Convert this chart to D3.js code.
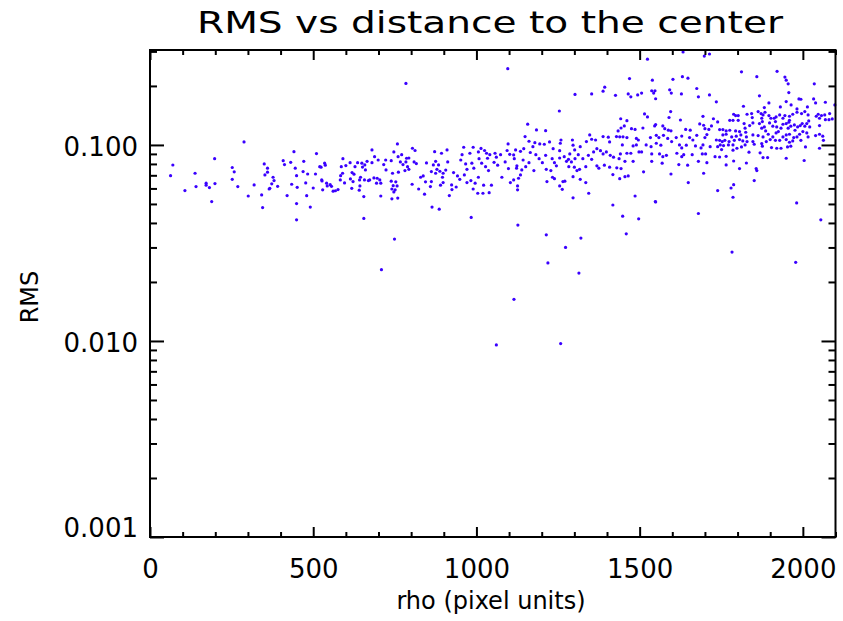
<!DOCTYPE html>
<html><head><meta charset="utf-8">
<script src="https://cdn.jsdelivr.net/npm/d3@7"></script>
<style>body{margin:0;background:#fff} svg text{font-family:"DejaVu Sans",sans-serif;fill:#000}</style>
</head><body><svg id="c" width="843" height="621"></svg>
<script>
const titleText = "RMS vs distance to the center";
const xLabel = "rho (pixel units)";
const yLabel = "RMS";
const xDomain = [0, 2100];
const yDomain = [0.001, 0.305];
const xMajorTicks = [0, 500, 1000, 1500, 2000];
const xTickLabels = ["0", "500", "1000", "1500", "2000"];
const yMajorTicks = [0.001, 0.01, 0.1];
const yTickLabels = ["0.001", "0.010", "0.100"];
// [rho, RMS]
const points = [
[70,.079],[63,.0697],[107,.0585],[138,.0717],[141,.0613],[172,.0638],[172,.0623],[182,.0606],[189,.0514],[198,.0851],[199,.0635],[252,.0767],[258,.0729],[252,.0668],[269,.0613],[288,.1036],[301,.0549],[319,.0625],[342,.0556],[345,.0479],[350,.0800],[360,.0761],[360,.0726],[352,.0703],[365,.0596],
[377,.0684],[380,.0658],[373,.0633],[367,.0601],[391,.0615],[408,.0831],[412,.0794],[420,.0552],[431,.0815],[434,.0630],[441,.0924],[445,.0761],[449,.0697],[449,.0502],[449,.0415],[451,.0608],[469,.0731],[471,.0825],[477,.0640],[480,.0551],[483,.0711],[491,.0482],[500,.0603],[507,.0711],[510,.0903],[520,.0775],[524,.0770],[526,.0663],[527,.0655],[529,.0590],[535,.0807],[537,.0788],[541,.0638],[543,.0618],[552,.0627],[556,.0615],[561,.0581],[568,.0584],[576,.0592],[583,.0663],[584,.0697],[586,.0775],[590,.0717],[591,.0851],[596,.0640],[600,.0785],[613,.0812],[614,.0671],[618,.0601],[619,.0723],[622,.0650],[625,.0709],[628,.0775],[636,.0812],[641,.0588],[642,.0663],[645,.0684],[643,.0618],[649,.0807],[651,.0771],[655,.0545],[655,.0422],[658,.0791],[660,.0746],[657,.0663],[665,.0825],[669,.0658],[673,.0663],[680,.0943],[680,.0812],[686,.0679],[688,.0871],[694,.0638],[696,.0676],[699,.0838],[704,.0663],[707,.0638],[707,.0549],[716,.0794],[722,.0838],[723,.0746],
[758,.1012],[747,.0921],[760,.0871],[739,.0831],[771,.0892],[767,.0819],[775,.0794],[786,.0855],[784,.0819],[789,.0775],[793,.0858],[781,.0740],[743,.0717],[761,.0726],[739,.0653],[753,.0648],[745,.0620],[757,.0618],[751,.0590],[741,.0596],[747,.0576],[741,.0531],[759,.0536],[804,.0962],[812,.0937],[809,.0819],[816,.0803],[793,.0751],[803,.0630],[823,.0596],[829,.0684],[837,.0695],[844,.0648],[841,.0561],[847,.0810],[859,.0613],[862,.0650],[862,.0731],[864,.0482],[868,.0791],[872,.0924],[875,.0825],[875,.0717],[879,.0751],[884,.0791],[886,.0470],[888,.0734],[890,.0623],[893,.0907],[898,.0717],[898,.0643],[896,.0684],[906,.0744],[910,.0943],[912,.0819],[917,.0552],[924,.0625],[925,.0592],[930,.0723],[938,.0610],[942,.0695],[949,.0668],[952,.0838],[956,.0892],[961,.0973],[963,.0703],[967,.0800],[971,.0643],[971,.0751],[980,.0907],[983,.0658],[984,.0427],[986,.0807],[990,.0973],[990,.0596],[992,.0761],[996,.0638],[1004,.0567],[1006,.0684],[1006,.0921],[1008,.0851],[1014,.0960],[1016,.0807],[1020,.0567],[1022,.0623],[1025,.0937],[1028,.0775],[1031,.0907],[1034,.0855],[1037,.0740],[1039,.0571],[1041,.0892],[1046,.0623],[1054,.0815],[1057,.0907],[1061,.0866],[1065,.0788],[1074,.0892],[1078,.0684],[1088,.0819],[1094,.0937],[1097,.1012],[1098,.0758],[749,.0331],[709,.0231],[784,.206],
[1127,.0390],[1214,.0348],[1219,.0250],[1273,.0300],[1320,.0335],[1314,.0222],[1115,.0163],[1061,.00955],[1258,.0097],[1418,.0494],[1448,.0433],[1459,.0352],[1497,.0420],[1548,.0514],[1680,.0447],[1783,.0284],[1981,.0506],[1978,.0252],[2055,.0415],[1296,.0537],
[1302,.181],[1353,.182],[1393,.197],[1388,.188],[1426,.179],[1254,.149],[1157,.1276],[1184,.1193],[1212,.1183],[1149,.1103],[1161,.1044],[1179,.1027],[1194,.1012],[1208,.1008],[1224,.1036],[1259,.1060],[1257,.1020],[1294,.1060],[1296,.0997],[1145,.0957],[1173,.0980],[1120,.0943],[1114,.0889],[1102,.0896],[1135,.0928],[1165,.0915],[1182,.0892],[1192,.0851],[1212,.0885],[1235,.0957],[1255,.0935],[1269,.0871],[1282,.0845],[1286,.0900],[1301,.0943],[1318,.0980],[1337,.1040],[1347,.1125],[1353,.1069],[1365,.1060],[1388,.1103],[1408,.1036],[1434,.1179],[1429,.1103],[1404,.1095],[1116,.0851],[1143,.0838],[1161,.0812],[1202,.0812],[1232,.0851],[1239,.0812],[1255,.0858],[1276,.0825],[1291,.0819],[1302,.0851],[1312,.0892],[1326,.0851],[1343,.0885],[1353,.0845],[1359,.0921],[1369,.0957],[1380,.0935],[1388,.0900],[1398,.0921],[1410,.0885],[1420,.0866],[1437,.0851],[1124,.0782],[1139,.0746],[1123,.0761],[1151,.0775],[1176,.0740],[1214,.0751],[1228,.0740],[1245,.0782],[1283,.0775],[1300,.0770],[1316,.0751],[1335,.0775],[1369,.0782],[1375,.0761],[1392,.0788],[1408,.0770],[1430,.0764],[1135,.0703],[1129,.0676],[1114,.0663],[1104,.0643],[1126,.0618],[1126,.0590],[1216,.0650],[1233,.0684],[1239,.0673],[1265,.0650],[1271,.0653],[1255,.0618],[1263,.0594],[1296,.0689],[1318,.0668],[1335,.0643],[1308,.0740],[1344,.0567],[1418,.0706],[1096,.245],
[1633,.298],[1698,.284],[1714,.291],[1524,.274],[1469,.218],[1539,.214],[1602,.216],[1631,.223],[1648,.219],[1465,.182],[1473,.176],[1494,.180],[1506,.184],[1537,.189],[1547,.189],[1543,.184],[1549,.172],[1592,.191],[1597,.184],[1628,.182],[1675,.194],[1680,.176],[1714,.180],[1735,.166],[1595,.148],[1590,.138],[1515,.144],[1524,.139],[1694,.140],[1726,.136],[1739,.131],[1625,.134],[1549,.127],[1546,.125],[1442,.136],[1461,.133],[1453,.125],[1443,.122],[1475,.121],[1486,.120],[1510,.122],[1571,.125],[1577,.121],[1588,.119],[1596,.118],[1641,.120],[1655,.119],[1684,.128],[1696,.126],[1700,.121],[1712,.120],[1720,.125],[1439,.110],[1449,.110],[1461,.109],[1490,.108],[1496,.106],[1533,.109],[1551,.112],[1559,.109],[1573,.112],[1586,.108],[1612,.109],[1629,.111],[1653,.109],[1663,.106],[1675,.112],[1700,.109],[1706,.113],[1735,.106],[1447,.100],[1480,.0988],[1490,.100],[1520,.100],[1535,.0980],[1551,.102],[1565,.0997],[1598,.104],[1622,.100],[1629,.0965],[1643,.0997],[1671,.0988],[1688,.0965],[1694,.100],[1716,.0980],[1739,.0980],[1441,.0900],[1461,.0907],[1473,.0907],[1498,.0921],[1506,.0921],[1537,.0900],[1561,.0900],[1571,.0871],[1582,.0885],[1614,.0907],[1629,.0871],[1635,.0892],[1661,.0892],[1692,.0900],[1702,.0900],[1731,.0871],[1455,.0825],[1480,.0825],[1537,.0825],[1569,.0807],[1620,.0794],[1647,.0788],[1680,.0825],[1706,.0812],[1443,.0758],[1439,.0673],[1455,.0689],[1465,.0695],[1512,.0729],[1596,.0711],[1649,.0643],[1696,.0717],[1739,.0585],[1486,.0549],[1549,.0512],
[1812,.236],[1859,.223],[1921,.2375],[1945,.222],[1949,.214],[1955,.205],[1957,.185],[2035,.205],[1806,.0758],[1857,.0758],[1859,.0740],[1851,.0658],[1788,.0627],[1780,.0603],[1786,.0541],
[1867,.178],[1896,.1638],[1949,.1664],[1964,.1600],[1988,.1716],[1994,.1710],[2033,.1716],[2039,.1638],[2069,.1651],[2098,.1600],[1818,.1575],[1931,.1563],[1882,.1551],[2014,.1563],[1982,.1527],[1788,.1434],[1794,.1412],[1786,.1335],[1776,.1335],[1802,.1335],[1802,.1412],[1829,.1434],[1843,.1446],[1845,.1379],[1863,.1480],[1872,.1446],[1878,.1423],[1874,.1368],[1884,.1468],[1896,.1412],[1902,.1368],[1912,.1368],[1918,.1390],[1929,.1423],[1939,.1368],[1945,.1412],[1959,.1401],[1959,.1335],[1969,.1434],[1982,.1468],[1996,.1446],[2006,.1480],[2016,.1423],[2018,.1326],[2041,.1401],[2047,.1434],[2057,.1412],[2051,.1368],[2067,.1423],[2069,.1346],[2082,.1446],[2080,.1346],[2090,.1357],
[1820,.1285],[1823,.1217],[1825,.1161],[1837,.1255],[1847,.1295],[1867,.1285],[1874,.1217],[1876,.1316],[1882,.1236],[1886,.1179],[1898,.1295],[1908,.1246],[1916,.1316],[1920,.1236],[1925,.1170],[1933,.1217],[1939,.1275],[1949,.1285],[1955,.1217],[1957,.1305],[1963,.1246],[1974,.1265],[1976,.1188],[1984,.1236],[1992,.1255],[1998,.1285],[2006,.1246],[2012,.1285],[2021,.1236],[2051,.1255],
[1745,.1198],[1755,.1198],[1765,.1179],[1776,.1188],[1794,.1179],[1806,.1170],[1755,.1125],[1765,.1134],[1782,.1099],[1796,.1108],[1810,.1125],[1827,.1099],[1847,.1125],[1863,.1116],[1878,.1099],[1894,.1134],[1908,.1099],[1918,.1152],[1939,.1099],[1949,.1125],[1959,.1134],[1972,.1090],[1982,.1099],[1990,.1134],[2000,.1170],[2012,.1152],[2016,.1099],[2039,.1116],[2051,.1134],[2061,.1108],
[1745,.1056],[1753,.1040],[1761,.1056],[1774,.1040],[1790,.1056],[1806,.1065],[1816,.1048],[1829,.1040],[1847,.1040],[1851,.1008],[1874,.1016],[1888,.1040],[1900,.1065],[1916,.1056],[1929,.1056],[1949,.1065],[1959,.1032],[1969,.1048],[1994,.1056],[2063,.1056],
[1747,.1000],[1757,.0992],[1772,.1000],[1786,.1000],[1798,.0962],[1812,.0977],[1823,.1000],[1876,.0985],[1904,.0969],[1920,.0962],[1933,.0962],[1953,.0977],[1963,.0985],[2008,.0977],[2051,.0962],[1751,.0947],[1786,.0940],[1765,.0875],[1835,.0918],[1869,.0911],[1745,.0868],[1878,.0862],[1892,.0862],[1949,.0855],[1788,.0828],[1827,.0809],[1765,.0791],[2004,.0833]
];

const svg = d3.select("#c");
const L = 150, R = 835.5, T = 50, B = 537;
const x = d3.scaleLinear().domain(xDomain).range([L, R]);
const y = d3.scaleLog().domain(yDomain).range([B, T]);

const xMinor = d3.range(0, 2101, 100).filter(v => !xMajorTicks.includes(v));
const yMinor = [];
[0.001, 0.01, 0.1].forEach(dec => { for (let k = 2; k <= 9; k++) { const v = +(k * dec).toPrecision(3); if (v <= yDomain[1]) yMinor.push(v); } });

// points
svg.append("g").selectAll("circle").data(points).join("circle")
  .attr("cx", d => x(d[0])).attr("cy", d => y(d[1])).attr("r", 1.6)
  .attr("fill", "#3a00ff");

function styleAxis(g) {
  g.select(".domain").remove();
  g.selectAll(".tick line").attr("stroke", "#000").attr("stroke-width", 2);
  g.selectAll("text").style("font-size", "26px").attr("fill", "#000");
}

// bottom
svg.append("g").attr("transform", `translate(0,${B})`)
  .call(d3.axisBottom(x).tickValues(xMajorTicks).tickFormat((d, i) => xTickLabels[i]).tickSizeInner(-10).tickSizeOuter(0).tickPadding(22.5))
  .call(styleAxis);
svg.append("g").attr("transform", `translate(0,${B})`)
  .call(d3.axisBottom(x).tickValues(xMinor).tickFormat("").tickSizeInner(-5).tickSizeOuter(0))
  .call(styleAxis);
// top
svg.append("g").attr("transform", `translate(0,${T})`)
  .call(d3.axisTop(x).tickValues(xMajorTicks).tickFormat("").tickSizeInner(-10).tickSizeOuter(0))
  .call(styleAxis);
svg.append("g").attr("transform", `translate(0,${T})`)
  .call(d3.axisTop(x).tickValues(xMinor).tickFormat("").tickSizeInner(-5).tickSizeOuter(0))
  .call(styleAxis);
// left
const leftAxis = svg.append("g").attr("transform", `translate(${L},0)`)
  .call(d3.axisLeft(y).tickValues(yMajorTicks).tickFormat((d, i) => yTickLabels[i]).tickSizeInner(-14).tickSizeOuter(0).tickPadding(12))
  .call(styleAxis);
leftAxis.selectAll("text").attr("y", d => d === 0.001 ? -9 : 2);
svg.append("g").attr("transform", `translate(${L},0)`)
  .call(d3.axisLeft(y).tickValues(yMinor).tickFormat("").tickSizeInner(-7).tickSizeOuter(0))
  .call(styleAxis);
// right
svg.append("g").attr("transform", `translate(${R},0)`)
  .call(d3.axisRight(y).tickValues(yMajorTicks).tickFormat("").tickSizeInner(-14).tickSizeOuter(0))
  .call(styleAxis);
svg.append("g").attr("transform", `translate(${R},0)`)
  .call(d3.axisRight(y).tickValues(yMinor).tickFormat("").tickSizeInner(-7).tickSizeOuter(0))
  .call(styleAxis);

// frame
svg.append("rect").attr("x", L).attr("y", T).attr("width", R - L).attr("height", B - T)
  .attr("fill", "none").attr("stroke", "#000").attr("stroke-width", 2);

// title and labels
svg.append("text").attr("x", 490).attr("y", 33).attr("text-anchor", "middle")
  .attr("textLength", 586).attr("lengthAdjust", "spacingAndGlyphs")
  .style("font-size", "30px").text(titleText);
svg.append("text").attr("x", 491).attr("y", 609).attr("text-anchor", "middle")
  .style("font-size", "24px").text(xLabel);
svg.append("text").attr("transform", "translate(38,297) rotate(-90)").attr("text-anchor", "middle")
  .style("font-size", "24px").text(yLabel);
</script></body></html>
